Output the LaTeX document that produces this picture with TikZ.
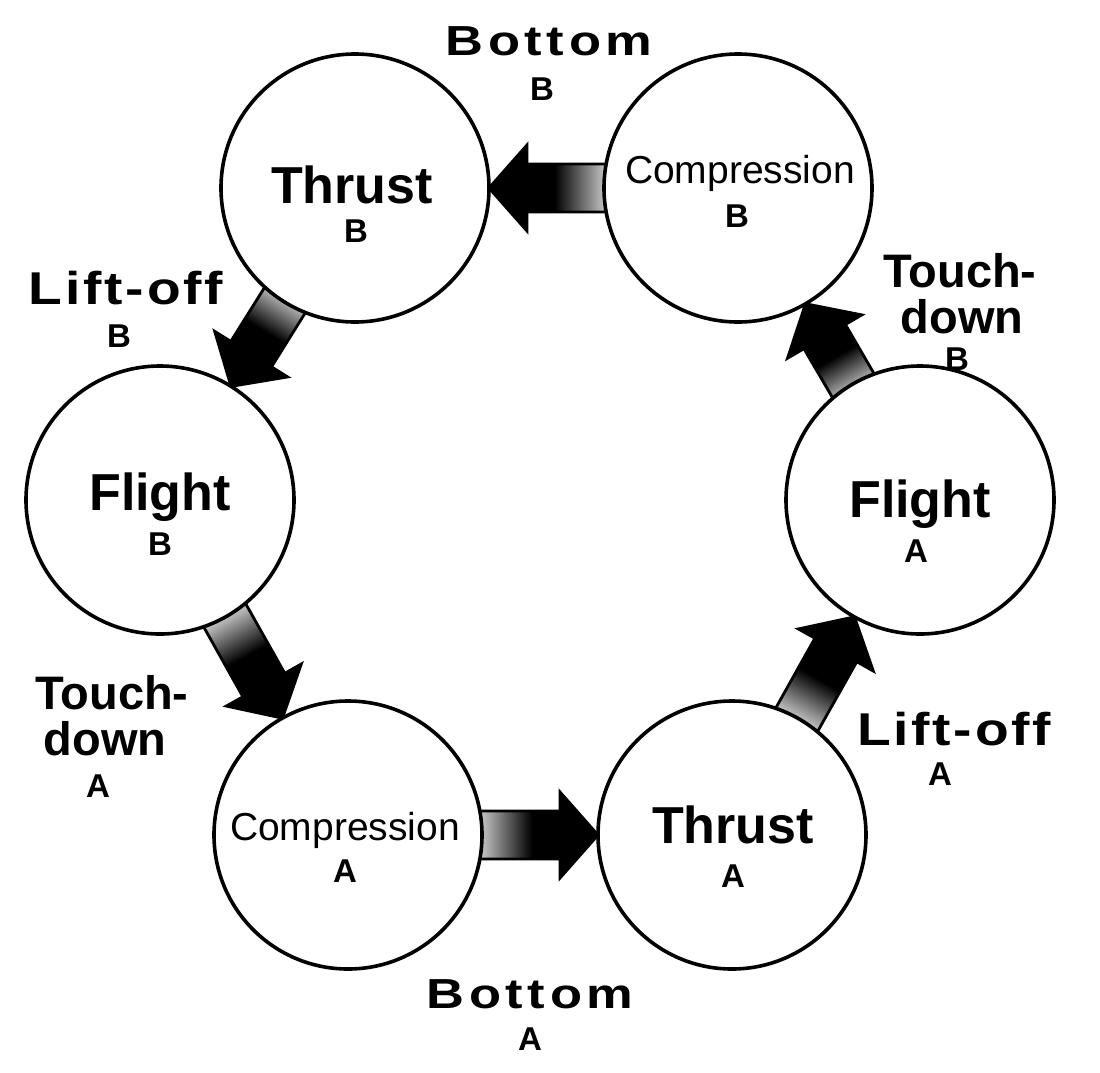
\documentclass[tikz,border=0pt]{standalone}
\usepackage{fontspec}
\setmainfont{Liberation Sans}
\newfontfamily\spacedA{Liberation Sans}[LetterSpace=11, FakeStretch=1.25]
\newfontfamily\spacedB{Liberation Sans}[LetterSpace=6, FakeStretch=1.2]
\usetikzlibrary{calc,backgrounds}
\tikzset{
  state/.style={circle, draw=black, line width=3.6pt, fill=white, minimum size=268pt, inner sep=0pt},
  big/.style={font=\fontsize{52}{56}\selectfont\bfseries, anchor=base, inner sep=0pt},
  comp/.style={font=\fontsize{39}{42}\selectfont, anchor=base, inner sep=0pt},
  sub/.style={font=\fontsize{33}{36}\selectfont\bfseries, anchor=base, inner sep=0pt},
  edgelab/.style={font=\fontsize{47}{50}\selectfont\bfseries, anchor=base, inner sep=0pt},
  bottomlab/.style={font=\fontsize{42}{46}\selectfont\spacedA\bfseries, anchor=base, inner sep=0pt},
  liftlab/.style={font=\fontsize{46}{50}\selectfont\spacedB\bfseries, anchor=base, inner sep=0pt},
  blockarr/.style={draw=black, line width=2.8pt, line join=miter, top color=black, bottom color=white, middle color=black},
}
\newcommand\blockarrow[3]{%
  \coordinate (#1#2s) at ($(#1.center)!118pt!(#2.center)$);
  \coordinate (#1#2t) at ($(#2.center)!134pt!(#1.center)$);
  \coordinate (#1#2h) at ($(#1#2t)!38pt!(#1#2s)$);
  \path[blockarr, shading angle=#3]
    ($(#1#2s)!24pt!90:(#1#2t)$) -- ($(#1#2h)!24pt!90:(#1#2t)$) -- ($(#1#2h)!43pt!90:(#1#2t)$)
    -- (#1#2t) -- ($(#1#2h)!43pt!-90:(#1#2t)$) -- ($(#1#2h)!24pt!-90:(#1#2t)$)
    -- ($(#1#2s)!24pt!-90:(#1#2t)$) -- cycle;
}
\begin{document}
\begin{tikzpicture}[x=1pt, y=-1pt]
\useasboundingbox (0,0) rectangle (1100,1072);

% states
\node[state] (ThrB)  at (355,188) {};
\node[state] (CompB) at (738,188) {};
\node[state] (FliB)  at (160,500) {};
\node[state] (FliA)  at (920,500) {};
\node[state] (CompA) at (348,835) {};
\node[state] (ThrA)  at (732,835) {};

% texts inside states
\node[big]  (tThrB)  at (352,203) {Thrust};
\node[sub]  (sThrB)  at (356,242) {B};
\node[comp] (tCompB) at (740,183) {Compression};
\node[sub]  (sCompB) at (737,227) {B};
\node[big]  (tFliB)  at (160,510) {Flight};
\node[sub]  (sFliB)  at (160,555) {B};
\node[big]  (tFliA)  at (920,517) {Flight};
\node[sub]  (sFliA)  at (916,562) {A};
\node[comp] (tCompA) at (345,840) {Compression};
\node[sub]  (sCompA) at (345,882) {A};
\node[big]  (tThrA)  at (733,843) {Thrust};
\node[sub]  (sThrA)  at (733,887) {A};

% transition arrows
\begin{scope}[on background layer]
  \blockarrow{CompB}{ThrB}{90}
  \blockarrow{ThrB}{FliB}{148}
  \blockarrow{FliB}{CompA}{209.3}
  \blockarrow{CompA}{ThrA}{-90}
  \blockarrow{ThrA}{FliA}{-29.3}
  \blockarrow{FliA}{CompB}{30.3}
\end{scope}

% transition labels
\node[bottomlab] (lBotB) at (549,55) {Bottom};
\node[sub]       (lBotBs) at (542,100) {B};
\node[liftlab]   (lLiftB) at (126,304) {Lift-off};
\node[sub]       (lLiftBs) at (119,347) {B};
\node[edgelab]   (lTouchA1) at (112,709) {Touch-};
\node[edgelab]   (lTouchA2) at (105,755) {down};
\node[sub]       (lTouchAs) at (98,797) {A};
\node[edgelab]   (lTouchB1) at (960,287) {Touch-};
\node[edgelab]   (lTouchB2) at (962,333) {down};
\node[sub]       (lTouchBs) at (957,370) {B};
\node[liftlab]   (lLiftA) at (954,745) {Lift-off};
\node[sub]       (lLiftAs) at (940,785) {A};
\node[bottomlab] (lBotA) at (530,1008) {Bottom};
\node[sub]       (lBotAs) at (530,1050) {A};
\end{tikzpicture}
\end{document}
